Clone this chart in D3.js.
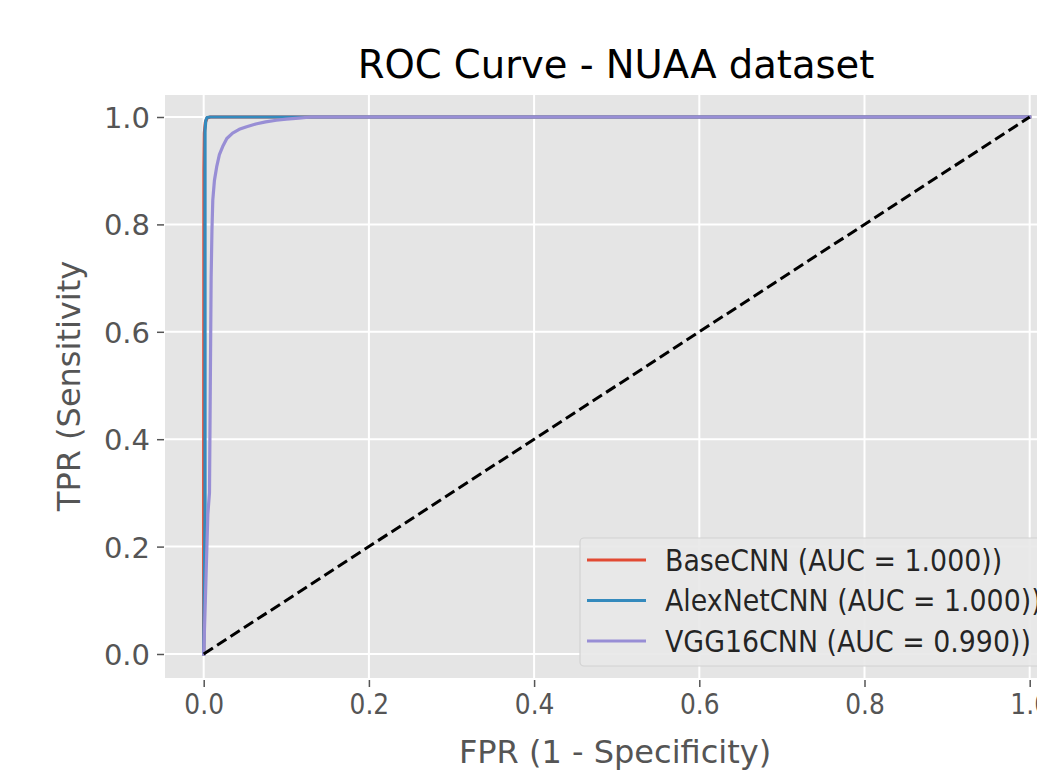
<!DOCTYPE html>
<html>
<head>
<meta charset="utf-8">
<script src="https://cdn.jsdelivr.net/npm/d3@7"></script>
<style>
  html, body { margin: 0; padding: 0; background: #fff; }
  svg { display: block; }
  text { font-family: "DejaVu Sans", sans-serif; }
</style>
</head>
<body>
<svg id="chart" width="1037" height="775"></svg>
<script>
// ---- data ----
const titleText = "ROC Curve - NUAA dataset";
const xLabelText = "FPR (1 - Specificity)";
const yLabelText = "TPR (Sensitivity";
const xTicks = [0.0, 0.2, 0.4, 0.6, 0.8, 1.0];
const yTicks = [0.0, 0.2, 0.4, 0.6, 0.8, 1.0];
const seriesNames = ["BaseCNN (AUC = 1.000))", "AlexNetCNN (AUC = 1.000))", "VGG16CNN (AUC = 0.990))"];
const seriesColors = ["#E24A33", "#348ABD", "#988ED5"];

const baseFpr = [0, 0, 0.0003, 0.0008, 0.002, 0.004, 0.008, 1.0];
const baseTpr = [0, 0.30, 0.90, 0.970, 0.990, 0.998, 1.0, 1.0];

const alexFpr = [0, 0.0005, 0.0016, 0.0016, 0.0025, 0.004, 0.008, 1.0];
const alexTpr = [0, 0.10, 0.26, 0.975, 0.993, 0.999, 1.0, 1.0];

const vggFpr = [0, 0.002, 0.005, 0.007, 0.008, 0.009, 0.010, 0.011, 0.013, 0.0157, 0.019, 0.023, 0.028, 0.035, 0.043, 0.052, 0.063, 0.075, 0.088, 0.10, 0.115, 0.13, 1.0];
const vggTpr = [0, 0.10, 0.26, 0.30, 0.50, 0.70, 0.79, 0.845, 0.882, 0.907, 0.930, 0.945, 0.960, 0.970, 0.977, 0.982, 0.987, 0.991, 0.994, 0.996, 0.998, 1.0, 1.0];

const chanceFpr = [0, 1];
const chanceTpr = [0, 1];

// ---- layout ----
const svg = d3.select("#chart");
const plot = { left: 165, top: 95, right: 1071, bottom: 678 };
const x = d3.scaleLinear().domain([0, 1]).range([203.7, 1029.7]);
const y = d3.scaleLinear().domain([0, 1]).range([654, 117]);

svg.append("defs").append("clipPath").attr("id", "clip")
  .append("rect").attr("x", plot.left).attr("y", plot.top)
  .attr("width", plot.right - plot.left).attr("height", plot.bottom - plot.top);

svg.append("rect")
  .attr("x", plot.left).attr("y", plot.top)
  .attr("width", plot.right - plot.left).attr("height", plot.bottom - plot.top)
  .attr("fill", "#E5E5E5");

// grid
const grid = svg.append("g").attr("clip-path", "url(#clip)");
grid.selectAll(".gx").data(xTicks).join("line")
  .attr("x1", d => x(d)).attr("x2", d => x(d))
  .attr("y1", plot.top).attr("y2", plot.bottom)
  .attr("stroke", "#fff").attr("stroke-width", 2);
grid.selectAll(".gy").data(yTicks).join("line")
  .attr("y1", d => y(d)).attr("y2", d => y(d))
  .attr("x1", plot.left).attr("x2", plot.right)
  .attr("stroke", "#fff").attr("stroke-width", 2);

// axes
const xAxis = d3.axisBottom(x).tickValues(xTicks).tickFormat(d3.format(".1f")).tickSize(7).tickPadding(6);
const gx = svg.append("g").attr("transform", `translate(0,${plot.bottom + 2})`).call(xAxis);
const yAxis = d3.axisLeft(y).tickValues(yTicks).tickFormat(d3.format(".1f")).tickSize(7).tickPadding(7);
const gy = svg.append("g").attr("transform", `translate(${plot.left - 1},0)`).call(yAxis);
[gx, gy].forEach(g => {
  g.select(".domain").remove();
  g.selectAll(".tick line").attr("stroke", "#555").attr("stroke-width", 1.5);
  g.selectAll(".tick text").attr("fill", "#555").attr("font-size", 29)
    .style("font-family", "DejaVu Sans");
});
gx.selectAll(".tick text").attr("transform", "scale(0.86,1)").attr("x", 0).attr("dy", "0.71em");
gy.selectAll(".tick text").attr("dy", "0.36em");

// lines
const line = d3.line().x(d => x(d[0])).y(d => y(d[1])).curve(d3.curveMonotoneX);
const lineStraight = d3.line().x(d => x(d[0])).y(d => y(d[1]));
const lines = svg.append("g").attr("clip-path", "url(#clip)");
const series = [
  d3.zip(baseFpr, baseTpr),
  d3.zip(alexFpr, alexTpr),
  d3.zip(vggFpr, vggTpr)
];
series.forEach((s, i) => {
  lines.append("path").datum(s).attr("d", lineStraight)
    .attr("fill", "none").attr("stroke", seriesColors[i]).attr("stroke-width", 3.2)
    .attr("stroke-linejoin", "round").attr("stroke-linecap", "square");
});
lines.append("path").datum(d3.zip(chanceFpr, chanceTpr)).attr("d", lineStraight)
  .attr("fill", "none").attr("stroke", "#000").attr("stroke-width", 3)
  .attr("stroke-dasharray", "11,5");

// title and labels
svg.append("text").attr("x", 616).attr("y", 78).attr("text-anchor", "middle")
  .attr("font-size", 38.5).attr("fill", "#000").text(titleText);
svg.append("text").attr("x", 615).attr("y", 763).attr("text-anchor", "middle")
  .attr("font-size", 32).attr("fill", "#555").text(xLabelText);
svg.append("text").attr("transform", "translate(80,386) rotate(-90)").attr("text-anchor", "middle")
  .attr("font-size", 32).attr("fill", "#555").text(yLabelText);

// legend
const leg = svg.append("g");
leg.append("rect").attr("x", 580).attr("y", 538).attr("width", 500).attr("height", 128)
  .attr("rx", 4).attr("fill", "#E8E8E8").attr("fill-opacity", 0.9)
  .attr("stroke", "#D2D2D2").attr("stroke-width", 1.2);
const rowY = [560, 600.5, 641];
seriesNames.forEach((name, i) => {
  leg.append("line").attr("x1", 587).attr("x2", 646).attr("y1", rowY[i]).attr("y2", rowY[i])
    .attr("stroke", seriesColors[i]).attr("stroke-width", 3.2);
  leg.append("text").attr("transform", `translate(665,${rowY[i]}) scale(0.91,1)`)
    .attr("dy", "0.36em").attr("font-size", 29.5).attr("fill", "#000").attr("fill-opacity", 0.85).text(name);
});
</script>
</body>
</html>
